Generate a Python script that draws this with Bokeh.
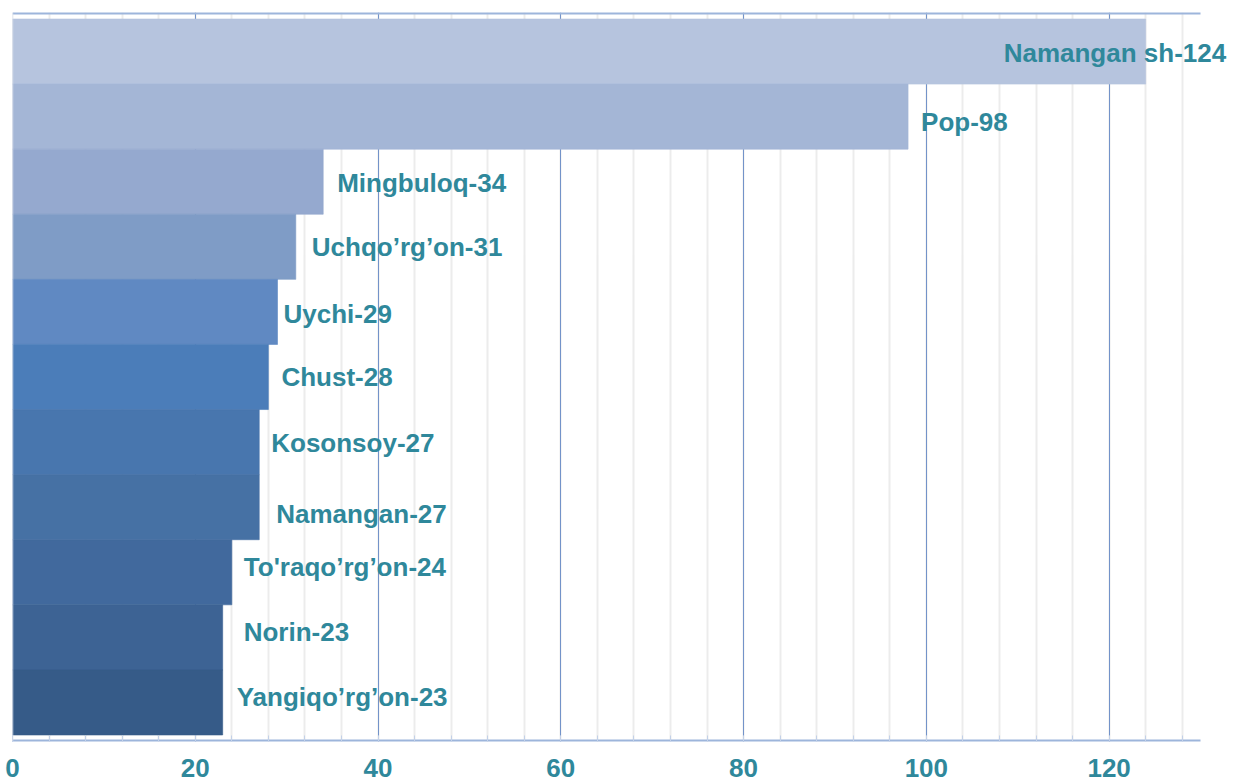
from bokeh.plotting import figure
from bokeh.models import Range1d, FixedTicker, LabelSet, ColumnDataSource, Span
from bokeh.core.properties import value
from bokeh.embed import file_html
from bokeh.resources import INLINE

# ---- data ----
names = ["Namangan sh", "Pop", "Mingbuloq", "Uchqo’rg’on", "Uychi", "Chust",
         "Kosonsoy", "Namangan", "To'raqo’rg’on", "Norin", "Yangiqo’rg’on"]
values = [124, 98, 34, 31, 29, 28, 27, 27, 24, 23, 23]
x_ticks = [0, 20, 40, 60, 80, 100, 120]
x_minor_ticks = [t for t in range(0, 130, 4)]
x_axis_max = 130

# ---- style / layout ----
bar_colors = ["#b6c4de", "#a4b6d6", "#95a9cf", "#7f9cc6", "#6089c2", "#4b7db9",
              "#4876ae", "#4671a4", "#41699d", "#3d6394", "#365b88"]
label_dx = [-142, 13, 14, 16, 6, 13, 12, 17, 12, 21, 14]
label_dy = [-1, -5, -1, 0, -2, 0, -1, -7, 5, 5, 5]
TEXT_COLOR = "#2f889b"
FONT = "Liberation Sans"
LINE_COLOR = "#9db5db"

W, H = 1236, 784
LEFT, TOP, AXIS_RIGHT, BOTTOM = 12, 12, 1200, 741
frame_w = W - LEFT
x_end = x_axis_max * frame_w / (AXIS_RIGHT - LEFT)

n = len(names)
pos = [n - 1 - i for i in range(n)]
labels = [f"{nm}-{v}" for nm, v in zip(names, values)]

src = ColumnDataSource(dict(pos=pos, value=values, color=bar_colors,
                            label=labels, dx=label_dx, dy=label_dy))

y0, y1 = -0.6, n - 0.4
p = figure(width=W, height=H, x_range=Range1d(0, x_end),
           y_range=Range1d(y0, y1),
           output_backend="svg", toolbar_location=None,
           min_border_left=LEFT, min_border_right=0, min_border_top=TOP,
           min_border_bottom=H - BOTTOM)
p.outline_line_color = None
p.background_fill_color = "white"
p.border_fill_color = "white"
p.yaxis.visible = False
p.ygrid.visible = False

ticker = FixedTicker(ticks=x_ticks, minor_ticks=x_minor_ticks)
p.xaxis.ticker = ticker
p.xgrid.ticker = ticker
p.xgrid.grid_line_color = "#7393c9"
p.xgrid.grid_line_width = 1
p.xgrid.minor_grid_line_color = "#ececec"
p.xgrid.minor_grid_line_width = 2

ax = p.xaxis[0]
ax.axis_line_color = None
ax.major_tick_in = 6
ax.major_tick_out = 0
ax.minor_tick_in = 6
ax.minor_tick_out = 0
ax.major_tick_line_color = LINE_COLOR
ax.minor_tick_line_color = "#c3d1e8"
ax.major_label_text_font = FONT
ax.major_label_text_font_style = "bold"
ax.major_label_text_font_size = "26px"
ax.major_label_text_color = TEXT_COLOR
ax.major_label_standoff = 17

p.hbar(y="pos", left=0, right="value", height=1, fill_color="color",
       line_color="color", line_width=0.6, source=src)

# top and bottom frame lines, limited to the axis extent
p.segment(x0=[0, 0], x1=[x_axis_max, x_axis_max], y0=[y0, y1], y1=[y0, y1],
          line_color=LINE_COLOR, line_width=4)
p.add_layout(Span(location=0, dimension="height", line_color="#d3dae6",
                  line_width=1.5))

ls = LabelSet(x="value", y="pos", text="label", x_offset="dx", y_offset="dy",
              source=src, text_font=value(FONT), text_font_style="bold",
              text_font_size="26px", text_color=TEXT_COLOR,
              text_baseline="middle", text_align="left")
p.add_layout(ls)

open("out.html", "w").write(file_html(p, INLINE))
